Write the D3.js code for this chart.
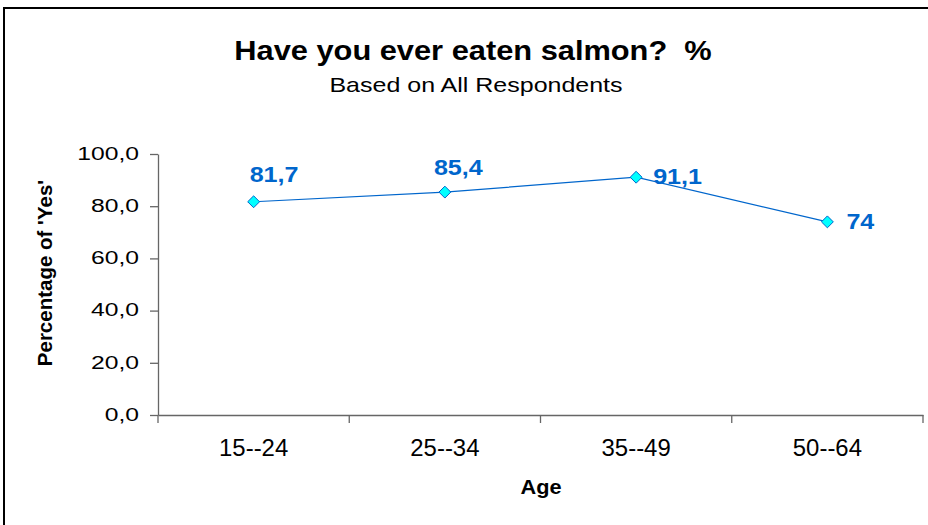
<!DOCTYPE html>
<html>
<head>
<meta charset="utf-8">
<script src="https://cdn.jsdelivr.net/npm/d3@7"></script>
<style>
  html, body { margin: 0; padding: 0; background: #fff; }
  svg { display: block; font-family: "Liberation Sans", Arial, sans-serif; }
  text { white-space: pre; }
</style>
</head>
<body>
<svg id="chart" width="928" height="525"></svg>
<script>
// Survey data: share answering "Yes" by age group
const ageGroups = ["15--24", "25--34", "35--49", "50--64"];
const yesPercent = [81.7, 85.4, 91.1, 74];
const valueLabels = ["81,7", "85,4", "91,1", "74"];
const yTicks = [0, 20, 40, 60, 80, 100];

const titleText = "Have you ever eaten salmon?  %";
const subtitleText = "Based on All Respondents";
const xTitle = "Age";
const yTitle = "Percentage of 'Yes'";

// Label placement relative to each marker (dx, dy)
const labelOffsets = [[-4, -20], [-11, -17], [17, 7], [19, 7]];

const svg = d3.select("#chart");
const plot = { left: 158, right: 923, top: 154, bottom: 415 };
const blue = "#0066CC";

// Frame around the chart area
svg.append("rect")
  .attr("x", 4).attr("y", 8)
  .attr("width", 940).attr("height", 540)
  .attr("fill", "#fff")
  .attr("stroke", "#000").attr("stroke-width", 2);

// Helper for horizontally stretched text
function stretchedText(g, x, y, str, size, weight, sx, anchor, fill) {
  return g.append("text")
    .attr("transform", `translate(${x},${y}) scale(${sx},1)`)
    .attr("text-anchor", anchor)
    .attr("font-size", size)
    .attr("font-weight", weight)
    .attr("fill", fill || "#000")
    .attr("xml:space", "preserve")
    .text(str);
}

// Titles
stretchedText(svg, 473, 60, titleText, 28, "bold", 1.1, "middle");
stretchedText(svg, 476, 91.5, subtitleText, 21, "normal", 1.19, "middle");

const x = d3.scaleBand().domain(ageGroups).range([plot.left, plot.right]).padding(0);
const y = d3.scaleLinear().domain([0, 100]).range([plot.bottom, plot.top]);

const axisColor = "#666";

// Y axis
const ySx = 1.3;
const yAxis = svg.append("g")
  .attr("transform", `translate(${plot.left},0)`)
  .call(d3.axisLeft(y).tickValues(yTicks).tickSize(8).tickSizeOuter(0)
    .tickFormat(d => d3.format(".1f")(d).replace(".", ",")));
yAxis.select(".domain").attr("stroke", axisColor).attr("stroke-width", 1.3);
yAxis.selectAll(".tick line").attr("stroke", axisColor).attr("stroke-width", 1.3);
yAxis.selectAll(".tick text")
  .attr("font-size", 19)
  .attr("font-family", "Liberation Sans, Arial, sans-serif")
  .attr("fill", "#000")
  .attr("x", -19 / ySx)
  .attr("dy", "0.28em")
  .attr("transform", `scale(${ySx},1)`);

// X axis: labels at band centres, tick marks on band boundaries
const xAxis = svg.append("g")
  .attr("transform", `translate(0,${plot.bottom})`)
  .call(d3.axisBottom(x).tickSize(0).tickSizeOuter(0));
xAxis.select(".domain").attr("stroke", axisColor).attr("stroke-width", 1.3);
xAxis.selectAll(".tick text")
  .attr("font-size", 23)
  .attr("font-family", "Liberation Sans, Arial, sans-serif")
  .attr("fill", "#000")
  .attr("y", 41)
  .attr("dy", 0)
  .attr("transform", "scale(1.04,1)")
  .attr("x", 0);
// keep stretched labels centred on their band
xAxis.selectAll(".tick").each(function(d) {
  const cx = x(d) + x.bandwidth() / 2;
  d3.select(this).attr("transform", `translate(${cx},0)`);
});
const boundaries = ageGroups.map(d => x(d)).concat([plot.right]);
xAxis.selectAll(".bound")
  .data(boundaries)
  .join("line")
  .attr("class", "bound")
  .attr("x1", d => d).attr("x2", d => d)
  .attr("y1", 0).attr("y2", 8)
  .attr("stroke", axisColor).attr("stroke-width", 1.3);

// Axis titles
stretchedText(svg, 541, 494, xTitle, 20.5, "bold", 1.06, "middle");
svg.append("text")
  .attr("transform", `translate(51.5,273) rotate(-90)`)
  .attr("text-anchor", "middle")
  .attr("font-size", 20.5)
  .attr("font-weight", "bold")
  .text(yTitle);

// Series line
const cx = d => x(d) + x.bandwidth() / 2;
const pts = ageGroups.map((c, i) => [cx(c), y(yesPercent[i])]);
svg.append("path")
  .attr("d", d3.line()(pts))
  .attr("fill", "none")
  .attr("stroke", blue)
  .attr("stroke-width", 1.2);

// Diamond markers
svg.selectAll(".marker")
  .data(pts)
  .join("path")
  .attr("class", "marker")
  .attr("d", d3.symbol(d3.symbolDiamond2, 90)())
  .attr("transform", d => `translate(${d[0]},${d[1]})`)
  .attr("fill", "#00FFFF")
  .attr("stroke", blue)
  .attr("stroke-width", 1);

// Value labels
pts.forEach((p, i) => {
  stretchedText(svg, p[0] + labelOffsets[i][0], p[1] + labelOffsets[i][1],
    valueLabels[i], 22, "bold", 1.14, "start", blue);
});
</script>
</body>
</html>
